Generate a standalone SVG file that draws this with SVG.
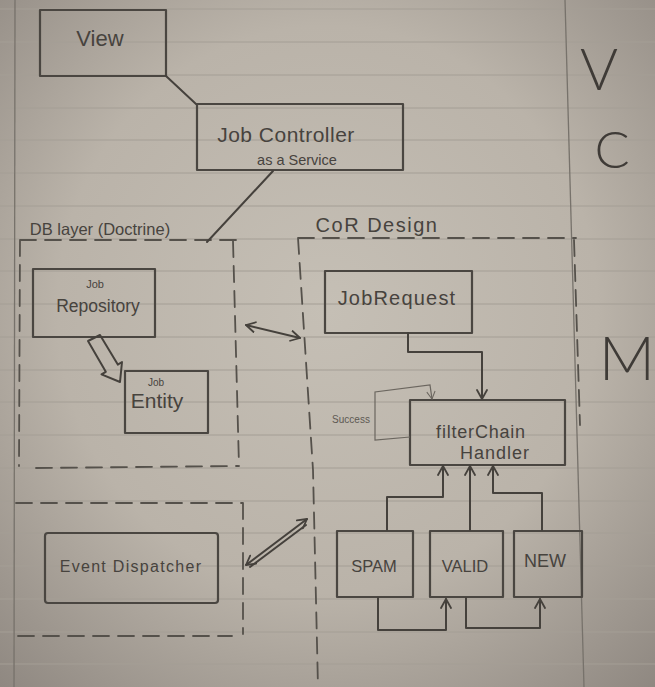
<svg xmlns="http://www.w3.org/2000/svg" width="655" height="687" viewBox="0 0 655 687">
<defs>
<radialGradient id="paper" cx="50%" cy="45%" r="75%">
<stop offset="0" stop-color="#c5bfb5"/>
<stop offset="0.55" stop-color="#bab3a9"/>
<stop offset="1" stop-color="#8e8780"/>
</radialGradient>
<marker id="ah" viewBox="0 0 12 12" refX="10" refY="6" markerWidth="12" markerHeight="12" markerUnits="userSpaceOnUse" orient="auto-start-reverse">
<path d="M1,1 L10,6 L1,11" fill="none" stroke="#45413c" stroke-width="1.8" stroke-linecap="round" stroke-linejoin="round"/>
</marker>
<marker id="ahl" viewBox="0 0 12 12" refX="10" refY="6" markerWidth="10" markerHeight="10" markerUnits="userSpaceOnUse" orient="auto">
<path d="M1,1 L10,6 L1,11" fill="none" stroke="#6b665f" stroke-width="1.2"/>
</marker>
<style>
.rule{stroke:#a49e95;stroke-width:1}
.margin{stroke:#77726b;stroke-width:1.3;fill:none}
.box{fill:none;stroke:#4a4641;stroke-width:2.2;stroke-linejoin:round}
.dash{fill:none;stroke:#55514b;stroke-width:1.8;stroke-dasharray:16 9;stroke-linecap:round}
.con{fill:none;stroke:#45413c;stroke-width:2;stroke-linejoin:round;stroke-linecap:round}
.t{font-family:"Liberation Sans","DejaVu Sans",sans-serif;fill:#47433e;text-anchor:middle}
.big{font-family:"Lato","Liberation Sans",sans-serif;font-weight:300;fill:#3f3b37;text-anchor:middle}
</style>
</defs>
<rect x="0" y="0" width="655" height="687" fill="url(#paper)"/>
<g id="paper-lines">
<line class="rule" x1="0" y1="9" x2="655" y2="9"/>
<line class="rule" x1="0" y1="42" x2="655" y2="42"/>
<line class="rule" x1="0" y1="75" x2="655" y2="75"/>
<line class="rule" x1="0" y1="108" x2="655" y2="108"/>
<line class="rule" x1="0" y1="140" x2="655" y2="140"/>
<line class="rule" x1="0" y1="173" x2="655" y2="173"/>
<line class="rule" x1="0" y1="206" x2="655" y2="206"/>
<line class="rule" x1="0" y1="239" x2="655" y2="239"/>
<line class="rule" x1="0" y1="271" x2="655" y2="271"/>
<line class="rule" x1="0" y1="304" x2="655" y2="304"/>
<line class="rule" x1="0" y1="337" x2="655" y2="337"/>
<line class="rule" x1="0" y1="370" x2="655" y2="370"/>
<line class="rule" x1="0" y1="402" x2="655" y2="402"/>
<line class="rule" x1="0" y1="435" x2="655" y2="435"/>
<line class="rule" x1="0" y1="468" x2="655" y2="468"/>
<line class="rule" x1="0" y1="501" x2="655" y2="501"/>
<line class="rule" x1="0" y1="533" x2="655" y2="533"/>
<line class="rule" x1="0" y1="566" x2="655" y2="566"/>
<line class="rule" x1="0" y1="599" x2="655" y2="599"/>
<line class="rule" x1="0" y1="632" x2="655" y2="632"/>
<line class="rule" x1="0" y1="664" x2="655" y2="664"/>
<line class="margin" x1="15" y1="0" x2="14" y2="687"/>
<line class="margin" x1="565" y1="0" x2="584" y2="687"/>
</g>

<g id="groups">
<text class="t" x="100" y="235" font-size="16.5" text-anchor="middle">DB layer (Doctrine)</text>
<path class="dash" d="M20,240 L236,240 M20,240 L19,466 M233,241 L239,466 M36,468 L238,466"/>
<text class="t" x="377" y="232" font-size="20" letter-spacing="1.5">CoR Design</text>
<path class="dash" d="M298,238 L576,238 M298,238 L313,470 L318,687 M574,240 L580,425"/>
<path class="dash" d="M16,503 L243,503 M243,503 L243,634 M18,636 L232,636"/>
</g>

<g id="view">
<rect class="box" x="40" y="10" width="126" height="66"/>
<text class="t" x="100" y="46" font-size="22">View</text>
</g>

<g id="job-controller">
<rect class="box" x="197" y="104" width="206" height="66"/>
<text class="t" x="286" y="142" font-size="21" letter-spacing="0.5">Job Controller</text>
<text class="t" x="297" y="165" font-size="14.5">as a Service</text>
</g>

<g id="job-repository">
<rect class="box" x="33" y="269" width="122" height="68"/>
<text class="t" x="95" y="288" font-size="11">Job</text>
<text class="t" x="98" y="312" font-size="17.5">Repository</text>
</g>

<g id="job-entity">
<rect class="box" x="125" y="371" width="83" height="62"/>
<text class="t" x="156" y="386" font-size="10">Job</text>
<text class="t" x="157" y="408" font-size="21">Entity</text>
</g>

<g id="job-request">
<rect class="box" x="325" y="271" width="147" height="62"/>
<text class="t" x="397" y="305" font-size="20" letter-spacing="1.2">JobRequest</text>
</g>

<g id="filter-chain-handler">
<rect class="box" x="410" y="400" width="155" height="65"/>
<text class="t" x="481" y="438" font-size="18" letter-spacing="0.8">filterChain</text>
<text class="t" x="495" y="459" font-size="18" letter-spacing="1">Handler</text>
</g>

<g id="event-dispatcher">
<rect class="box" x="45" y="533" width="173" height="70" rx="3"/>
<text class="t" x="131" y="572" font-size="16" letter-spacing="1.3">Event Dispatcher</text>
</g>

<g id="spam">
<rect class="box" x="337" y="531" width="76" height="66"/>
<text class="t" x="374" y="572" font-size="16.5">SPAM</text>
</g>

<g id="valid">
<rect class="box" x="430" y="531" width="73" height="66"/>
<text class="t" x="465" y="572" font-size="16.5">VALID</text>
</g>

<g id="new">
<rect class="box" x="514" y="531" width="68" height="66"/>
<text class="t" x="545" y="567" font-size="18">NEW</text>
</g>

<g id="layer-labels">
<text class="big" x="599" y="90" font-size="58">V</text>
<text class="big" x="612" y="168" font-size="52">C</text>
<text class="big" x="627" y="380" font-size="62">M</text>
</g>

<g id="connectors">
<line class="con" x1="166" y1="76" x2="196" y2="104"/>
<line class="con" x1="273" y1="171" x2="207" y2="242"/>
<polyline class="con" points="408,333 408,352 482,352 482,399" marker-end="url(#ah)"/>
<polyline points="410,437 375,440 375,392 430,385 432,399" fill="none" stroke="#6b665f" stroke-width="1.2" marker-end="url(#ahl)"/>
<text class="t" x="351" y="423" font-size="10" fill="#5e5953" style="fill:#5e5953">Success</text>
<polyline class="con" points="387,530 387,497 443,497 443,466" marker-end="url(#ah)"/>
<polyline class="con" points="470,530 470,466" marker-end="url(#ah)"/>
<polyline class="con" points="542,530 542,493 493,493 493,466" marker-end="url(#ah)"/>
<polyline class="con" points="378,598 378,630 446,630 446,599" marker-end="url(#ah)"/>
<polyline class="con" points="466,598 466,628 540,628 540,599" marker-end="url(#ah)"/>
<polygon class="con" points="88,341 100,335 117.8,364.6 122,362 120,382 101.5,374.3 105.8,371.8"/>
<line class="con" x1="246" y1="325" x2="300" y2="338" marker-start="url(#ah)" marker-end="url(#ah)"/>
<line class="con" x1="246" y1="565" x2="307" y2="519" marker-start="url(#ah)" marker-end="url(#ah)"/>
<line class="con" x1="250" y1="567" x2="306" y2="525" stroke-width="1.5"/>
</g>
</svg>
